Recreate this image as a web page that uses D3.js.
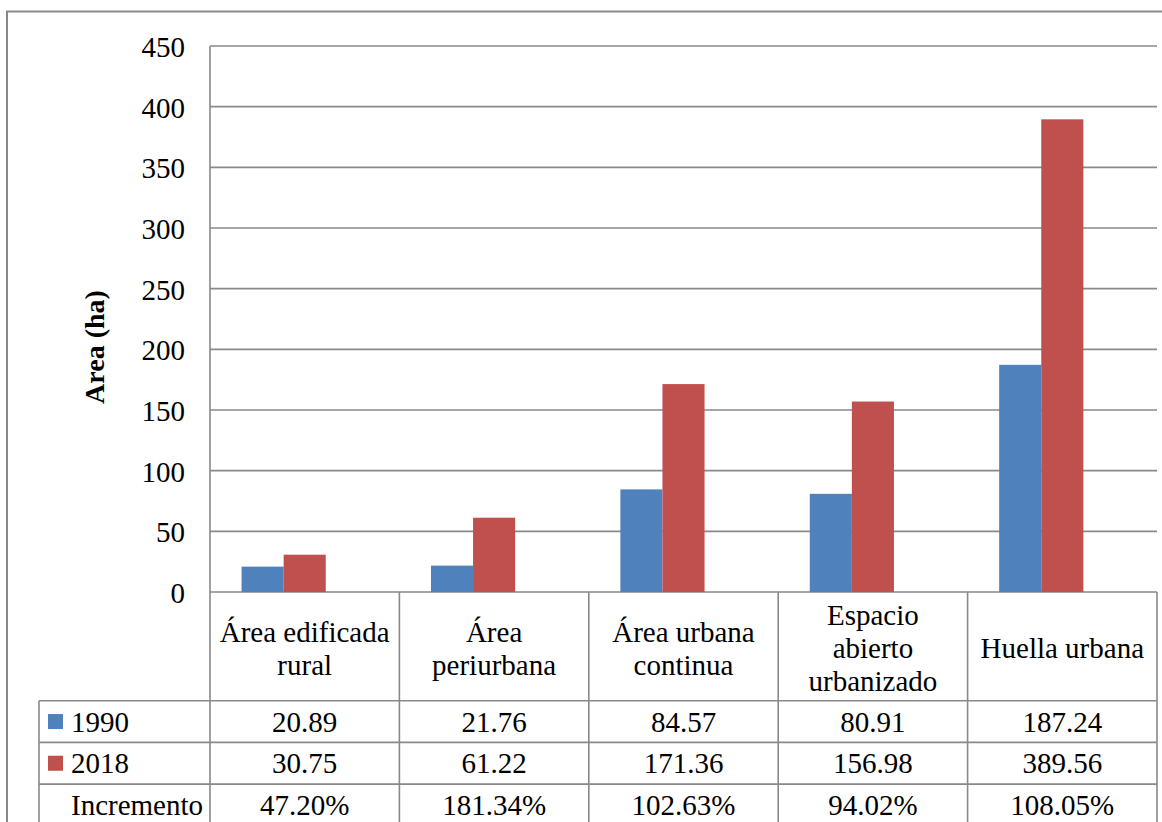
<!DOCTYPE html>
<html>
<head>
<meta charset="utf-8">
<script src="https://cdn.jsdelivr.net/npm/d3@7/dist/d3.min.js"></script>
<style>
  html, body { margin: 0; padding: 0; background: #fff; }
  svg { display: block; }
  text { font-family: "Liberation Serif", "Times New Roman", serif; fill: #000; }
</style>
</head>
<body>
<svg id="chart" width="1162" height="822"></svg>
<script>
// Categories (header cells of the data table; "|" marks a line break)
const categories = [
  "Área edificada|rural",
  "Área|periurbana",
  "Área urbana|continua",
  "Espacio|abierto|urbanizado",
  "Huella urbana"
];
const seriesNames = ["1990", "2018", "Incremento"];
const values1990 = [20.89, 21.76, 84.57, 80.91, 187.24];
const values2018 = [30.75, 61.22, 171.36, 156.98, 389.56];
const incremento = [0.4720, 1.8134, 1.0263, 0.9402, 1.0805];
const yTicks = [0, 50, 100, 150, 200, 250, 300, 350, 400, 450];
const seriesColors = ["#4F81BD", "#C0504D", "none"];

const svg = d3.select("#chart");
const gridColor = "#898989";
const fontSize = 29;

const plot = { left: 210, right: 1157, top: 46, bottom: 592 };
const table = { keyLeft: 39, headerBottom: 700.7, rowH: 41.7 };

const y = d3.scaleLinear().domain([0, 450]).range([plot.bottom, plot.top]);
const x = d3.scaleBand().domain(d3.range(categories.length))
  .range([plot.left, plot.right]).paddingInner(0).paddingOuter(0);
const xs = d3.scaleBand().domain(seriesNames)
  .range([0, x.bandwidth()]).paddingInner(0).paddingOuter(0.75);

// Outer chart-area frame
svg.append("rect")
  .attr("x", 7).attr("y", 11.5).attr("width", 1200).attr("height", 900)
  .attr("fill", "none").attr("stroke", gridColor).attr("stroke-width", 2);

// Horizontal gridlines
svg.append("g").selectAll("line").data(yTicks).join("line")
  .attr("x1", plot.left).attr("x2", plot.right)
  .attr("y1", d => y(d)).attr("y2", d => y(d))
  .attr("stroke", gridColor).attr("stroke-width", 1.6);

// Y tick labels
svg.append("g").selectAll("text").data(yTicks).join("text")
  .attr("x", 185).attr("y", d => y(d) + 1)
  .attr("text-anchor", "end").attr("dominant-baseline", "central")
  .attr("font-size", fontSize)
  .text(d => d);

// Y axis title
svg.append("text")
  .attr("transform", `translate(94,347) rotate(-90)`)
  .attr("text-anchor", "middle").attr("dominant-baseline", "central")
  .attr("font-size", 28).attr("font-weight", "bold")
  .text("Area (ha)");

// Bars
const seriesData = [values1990, values2018, incremento];
seriesData.forEach((vals, si) => {
  if (seriesColors[si] === "none") return;
  svg.append("g").selectAll("rect").data(vals).join("rect")
    .attr("x", (d, i) => x(i) + xs(seriesNames[si]))
    .attr("width", xs.bandwidth())
    .attr("y", d => y(d))
    .attr("height", d => y(0) - y(d))
    .attr("fill", seriesColors[si]);
});

// Data table grid
const rowTops = [0, 1, 2].map(k => table.headerBottom + k * table.rowH);
const tableBottom = 830;
const g = svg.append("g").attr("stroke", gridColor).attr("stroke-width", 1.6);
// value axis line continuing down through the table
g.append("line").attr("x1", plot.left).attr("x2", plot.left)
  .attr("y1", plot.top).attr("y2", tableBottom);
// category separators and right edge
const bounds = d3.range(1, categories.length + 1).map(i => plot.left + i * x.step());
g.selectAll(".vsep").data(bounds).join("line")
  .attr("x1", d => d).attr("x2", d => d)
  .attr("y1", plot.bottom).attr("y2", tableBottom);
// left edge of legend column
g.append("line").attr("x1", table.keyLeft).attr("x2", table.keyLeft)
  .attr("y1", table.headerBottom).attr("y2", tableBottom);
// row separators
g.selectAll(".hsep").data(rowTops).join("line")
  .attr("x1", table.keyLeft).attr("x2", plot.right)
  .attr("y1", d => d).attr("y2", d => d);

// Header cells (category names)
const headerMid = 648;
const lineH = 33;
categories.forEach((c, i) => {
  const lines = c.split("|");
  const t = svg.append("text")
    .attr("text-anchor", "middle").attr("font-size", fontSize);
  lines.forEach((ln, k) => {
    t.append("tspan")
      .attr("x", x(i) + x.bandwidth() / 2)
      .attr("y", headerMid + (k - (lines.length - 1) / 2) * lineH)
      .attr("dominant-baseline", "central")
      .text(ln);
  });
});

// Value rows
const fmtPct = d3.format(".2%");
const rows = [
  { name: "1990", color: seriesColors[0], cells: values1990.map(v => v.toFixed(2)) },
  { name: "2018", color: seriesColors[1], cells: values2018.map(v => v.toFixed(2)) },
  { name: "Incremento", color: null, cells: incremento.map(v => fmtPct(v)) }
];
rows.forEach((r, k) => {
  const cy = rowTops[k] + table.rowH / 2;
  if (r.color) {
    svg.append("rect").attr("x", 48).attr("y", cy - 7.5)
      .attr("width", 15).attr("height", 15).attr("fill", r.color);
  }
  svg.append("text").attr("x", 71).attr("y", cy)
    .attr("dominant-baseline", "central").attr("font-size", fontSize)
    .text(r.name);
  svg.append("g").selectAll("text").data(r.cells).join("text")
    .attr("x", (d, i) => x(i) + x.bandwidth() / 2).attr("y", cy)
    .attr("text-anchor", "middle").attr("dominant-baseline", "central")
    .attr("font-size", fontSize)
    .text(d => d);
});
</script>
</body>
</html>
